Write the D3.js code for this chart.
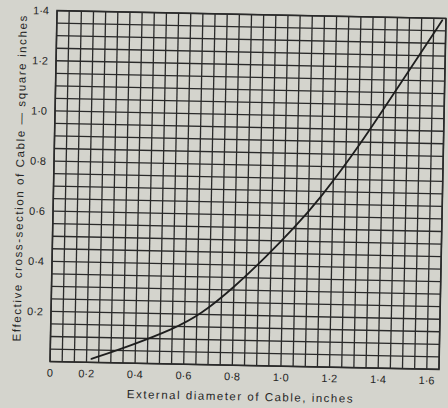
<!DOCTYPE html>
<html>
<head>
<meta charset="utf-8">
<script src="https://cdn.jsdelivr.net/npm/d3@7"></script>
<style>
  html, body { margin: 0; padding: 0; background: #d4d4cd; }
  svg { display: block; }
  .tick-label { font-family: "Liberation Sans", Arial, sans-serif; font-size: 11px; fill: #262626; }
  .axis-title { font-family: "Liberation Sans", Arial, sans-serif; font-size: 11.5px; fill: #262626; letter-spacing: 0.3px; }
</style>
</head>
<body>
<div id="chart"></div>
<script>
// Cable chart: effective cross-section vs external diameter

// Data
// =========================
var diameter = [0.22, 0.38, 0.555, 0.665, 0.80, 0.935, 1.04, 1.14, 1.31, 1.475, 1.635];
var section = [0.014, 0.07, 0.14, 0.199, 0.31, 0.44, 0.55, 0.662, 0.892, 1.148, 1.392];

var xTicks = [0.05, 0.2, 0.4, 0.6, 0.8, 1.0, 1.2, 1.4, 1.6];
var xTickLabels = ["0", "0·2", "0·4", "0·6", "0·8", "1·0", "1·2", "1·4", "1·6"];
var yTicks = [0.2, 0.4, 0.6, 0.8, 1.0, 1.2, 1.4];
var yTickLabels = ["0·2", "0·4", "0·6", "0·8", "1·0", "1·2", "1·4"];

var xTitle = "External diameter of Cable, inches";
var yTitle = "Effective cross-section of Cable — square inches";

// Sizes
// =====
var width = 448;
var height = 408;
var plot = { left: 53.5, right: 442.5, top: 14.5, bottom: 365.5 };
var gridStep = 0.05;
var ink = "#2a2a2a";

var svg = d3.select("#chart")
    .append("svg")
    .attr("width", width)
    .attr("height", height);

svg.append("rect")
    .attr("width", width)
    .attr("height", height)
    .attr("fill", "#d4d4cd");

// the scan is a little skewed, so tilt the whole sheet
var sheet = svg.append("g")
    .attr("transform", "rotate(1.15, 248, 190)");

// Scales
var xScale = d3.scaleLinear()
    .domain([0.05, 1.65])
    .range([plot.left, plot.right]);
var yScale = d3.scaleLinear()
    .domain([0, 1.4])
    .range([plot.bottom, plot.top]);

// Graph paper
// ===========
var xGrid = d3.range(0, 33).map(function(i) { return 0.05 + i * gridStep; });
var yGrid = d3.range(0, 29).map(function(i) { return i * gridStep; });

sheet.append("g")
    .selectAll("line")
    .data(xGrid)
    .enter()
    .append("line")
    .attr("x1", function(d) { return xScale(d); })
    .attr("x2", function(d) { return xScale(d); })
    .attr("y1", plot.top)
    .attr("y2", plot.bottom)
    .attr("stroke", ink)
    .attr("stroke-width", 1.3);

sheet.append("g")
    .selectAll("line")
    .data(yGrid)
    .enter()
    .append("line")
    .attr("x1", plot.left)
    .attr("x2", plot.right)
    .attr("y1", function(d) { return yScale(d); })
    .attr("y2", function(d) { return yScale(d); })
    .attr("stroke", ink)
    .attr("stroke-width", 1.3);

sheet.append("rect")
    .attr("x", plot.left)
    .attr("y", plot.top)
    .attr("width", plot.right - plot.left)
    .attr("height", plot.bottom - plot.top)
    .attr("fill", "none")
    .attr("stroke", ink)
    .attr("stroke-width", 1.6);

// Tick labels
// ===========
sheet.append("g")
    .selectAll("text")
    .data(xTicks)
    .enter()
    .append("text")
    .attr("class", "tick-label")
    .attr("x", function(d) { return xScale(d); })
    .attr("y", plot.bottom + 15)
    .attr("text-anchor", "middle")
    .text(function(d, i) { return xTickLabels[i]; });

sheet.append("g")
    .selectAll("text")
    .data(yTicks)
    .enter()
    .append("text")
    .attr("class", "tick-label")
    .attr("x", plot.left - 8)
    .attr("y", function(d) { return yScale(d) + 4; })
    .attr("text-anchor", "end")
    .text(function(d, i) { return yTickLabels[i]; });

// Axis titles
sheet.append("text")
    .attr("class", "axis-title")
    .attr("x", 244)
    .attr("y", plot.bottom + 35)
    .attr("text-anchor", "middle")
    .attr("textLength", 226)
    .text(xTitle);

sheet.append("text")
    .attr("class", "axis-title")
    .attr("transform", "translate(" + (plot.left - 30) + ", 183)rotate(-90)")
    .attr("text-anchor", "middle")
    .attr("textLength", 326)
    .text(yTitle);

// The curve
// =========
var points = diameter.map(function(d, i) { return [d, section[i]]; });

var line = d3.line()
    .x(function(d) { return xScale(d[0]); })
    .y(function(d) { return yScale(d[1]); })
    .curve(d3.curveBasis);

sheet.append("path")
    .datum(points)
    .attr("d", line)
    .attr("fill", "none")
    .attr("stroke", "#1e1e1e")
    .attr("stroke-width", 1.8)
    .attr("stroke-linecap", "round");
</script>
</body>
</html>
